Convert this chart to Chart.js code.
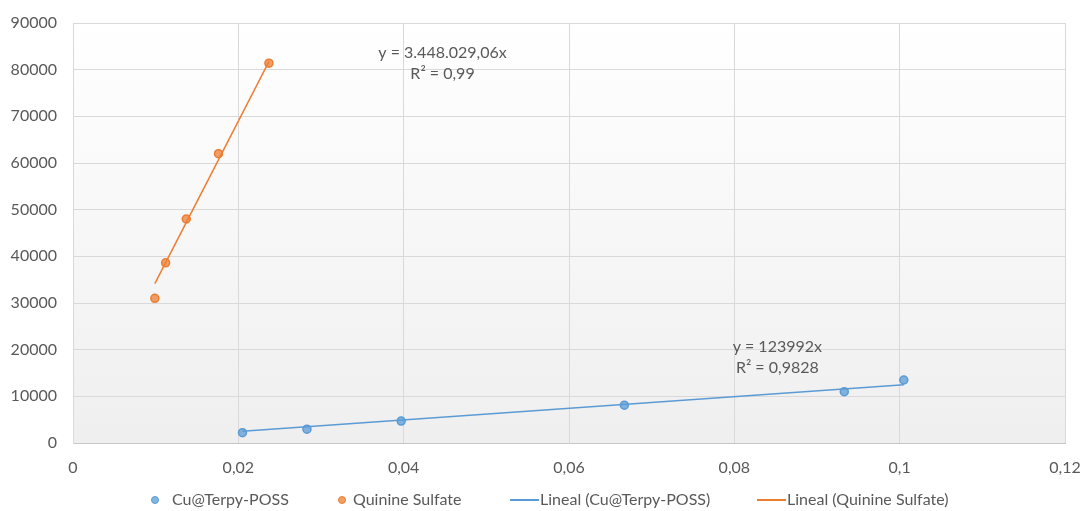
<!DOCTYPE html>
<html>
<head>
<meta charset="utf-8">
<script src="https://cdn.jsdelivr.net/npm/chart.js@4/dist/chart.umd.min.js"></script>
<style>
  html, body { margin: 0; padding: 0; background: #ffffff; }
  #wrap { width: 1083px; height: 511px; position: relative; }
</style>
</head>
<body>
<div id="wrap"><canvas id="c" width="1083" height="511"></canvas></div>
<script>
// Concentration (x) and integrated emission (y) for each sample
const cuLabel = 'Cu@Terpy-POSS';
const cuX = [0.0205, 0.0283, 0.0397, 0.0667, 0.0933, 0.1005];
const cuY = [2200, 2950, 4700, 8100, 11000, 13500];

const qsLabel = 'Quinine Sulfate';
const qsX = [0.0099, 0.0112, 0.0137, 0.0176, 0.0237];
const qsY = [31000, 38600, 48000, 62000, 81400];

// Linear fits through the origin, as reported on the chart
const cuSlope = 123992;
const cuSlopeText = 'y = 123992x';
const cuR2Text = 'R² = 0,9828';
const qsSlope = 3448029.06;
const qsSlopeText = 'y = 3.448.029,06x';
const qsR2Text = 'R² = 0,99';

const trendPrefix = 'Lineal';

// Axis ranges and tick steps
const xMin = 0, xMax = 0.12, xStep = 0.02;
const yMin = 0, yMax = 90000, yStep = 10000;

const BLUE = '#5B9BD5', BLUE_FILL = 'rgba(91,155,213,0.75)';
const ORANGE = '#ED7D31', ORANGE_FILL = 'rgba(237,125,49,0.75)';
const TEXT = '#595959';
const FONT = 'Lato, "Liberation Sans", sans-serif';

function zip(xs, ys) { return xs.map((x, i) => ({ x: x, y: ys[i] })); }
function fitLine(xs, slope) {
  const lo = Math.min(...xs), hi = Math.max(...xs);
  return [{ x: lo, y: slope * lo }, { x: hi, y: slope * hi }];
}
function fmtComma(v) { return Number(v.toFixed(4)).toString().replace('.', ','); }

// Plot area background: soft white-to-grey vertical gradient
const plotBackground = {
  id: 'plotBackground',
  beforeDraw(chart) {
    const { ctx, chartArea: a } = chart;
    const g = ctx.createLinearGradient(0, a.top, 0, a.bottom);
    g.addColorStop(0, '#ffffff');
    g.addColorStop(1, '#efefef');
    ctx.save();
    ctx.fillStyle = g;
    ctx.fillRect(a.left, a.top, a.right - a.left, a.bottom - a.top);
    ctx.restore();
  }
};

// Trendline equation labels
const fitLabels = {
  id: 'fitLabels',
  afterDatasetsDraw(chart) {
    const { ctx, scales: { x, y } } = chart;
    const labels = [
      { x: 0.0447, y: 83570, t: qsSlopeText },
      { x: 0.0447, y: 79070, t: qsR2Text },
      { x: 0.0852, y: 20570, t: cuSlopeText },
      { x: 0.0852, y: 16070, t: cuR2Text }
    ];
    ctx.save();
    ctx.font = '16px ' + FONT;
    ctx.fillStyle = TEXT;
    ctx.textAlign = 'center';
    ctx.textBaseline = 'middle';
    labels.forEach(l => ctx.fillText(l.t, x.getPixelForValue(l.x), y.getPixelForValue(l.y)));
    ctx.restore();
  }
};

// Legend row below the axis
const legendRow = {
  id: 'legendRow',
  afterDraw(chart) {
    const { ctx } = chart;
    const items = [
      { kind: 'point', stroke: BLUE, fill: BLUE_FILL, text: cuLabel, mx: 155, tx: 172 },
      { kind: 'point', stroke: ORANGE, fill: ORANGE_FILL, text: qsLabel, mx: 342, tx: 353 },
      { kind: 'line', stroke: BLUE, text: trendPrefix + ' (' + cuLabel + ')', mx: 510, tx: 540 },
      { kind: 'line', stroke: ORANGE, text: trendPrefix + ' (' + qsLabel + ')', mx: 757, tx: 787 }
    ];
    const yc = 500;
    ctx.save();
    ctx.font = '16px ' + FONT;
    ctx.textBaseline = 'middle';
    ctx.textAlign = 'left';
    items.forEach(it => {
      if (it.kind === 'point') {
        ctx.beginPath();
        ctx.arc(it.mx, yc, 3.5, 0, Math.PI * 2);
        ctx.fillStyle = it.fill;
        ctx.fill();
        ctx.lineWidth = 1;
        ctx.strokeStyle = it.stroke;
        ctx.stroke();
      } else {
        ctx.beginPath();
        ctx.moveTo(it.mx, yc);
        ctx.lineTo(it.mx + 29, yc);
        ctx.lineWidth = 2;
        ctx.strokeStyle = it.stroke;
        ctx.stroke();
      }
      ctx.fillStyle = TEXT;
      ctx.fillText(it.text, it.tx, yc);
    });
    ctx.restore();
  }
};

new Chart(document.getElementById('c'), {
  type: 'scatter',
  data: {
    datasets: [
      {
        label: cuLabel, data: zip(cuX, cuY), order: 1,
        pointRadius: 4, pointHoverRadius: 4, pointBorderWidth: 1.5,
        pointBackgroundColor: BLUE_FILL, pointBorderColor: BLUE
      },
      {
        label: qsLabel, data: zip(qsX, qsY), order: 1,
        pointRadius: 4, pointHoverRadius: 4, pointBorderWidth: 1.5,
        pointBackgroundColor: ORANGE_FILL, pointBorderColor: ORANGE
      },
      {
        label: trendPrefix + ' (' + cuLabel + ')', data: fitLine(cuX, cuSlope), order: 0,
        showLine: true, pointRadius: 0, borderColor: BLUE, borderWidth: 1.5
      },
      {
        label: trendPrefix + ' (' + qsLabel + ')', data: fitLine(qsX, qsSlope), order: 0,
        showLine: true, pointRadius: 0, borderColor: ORANGE, borderWidth: 1.5
      }
    ]
  },
  options: {
    responsive: false,
    animation: false,
    layout: { padding: { top: 23, right: 18, left: 0, bottom: 35 } },
    plugins: { legend: { display: false }, tooltip: { enabled: false } },
    scales: {
      x: {
        type: 'linear', min: xMin, max: xMax,
        afterFit(s) { s.height = 33; s.paddingLeft = 0; s.paddingRight = 0; },
        ticks: {
          stepSize: xStep, color: TEXT, padding: 15,
          font: { family: FONT, size: 16 },
          callback: v => fmtComma(v)
        },
        grid: { color: '#d9d9d9', lineWidth: 1, drawTicks: false },
        border: { color: '#c6c6c6', width: 1 }
      },
      y: {
        type: 'linear', min: yMin, max: yMax,
        afterFit(s) { s.width = 73; s.paddingTop = 0; s.paddingBottom = 0; },
        ticks: {
          stepSize: yStep, color: TEXT, padding: 16,
          font: { family: FONT, size: 16 },
          callback: v => String(v)
        },
        grid: { color: '#d9d9d9', lineWidth: 1, drawTicks: false },
        border: { color: '#d9d9d9', width: 1 }
      }
    }
  },
  plugins: [plotBackground, fitLabels, legendRow]
});
</script>
</body>
</html>
